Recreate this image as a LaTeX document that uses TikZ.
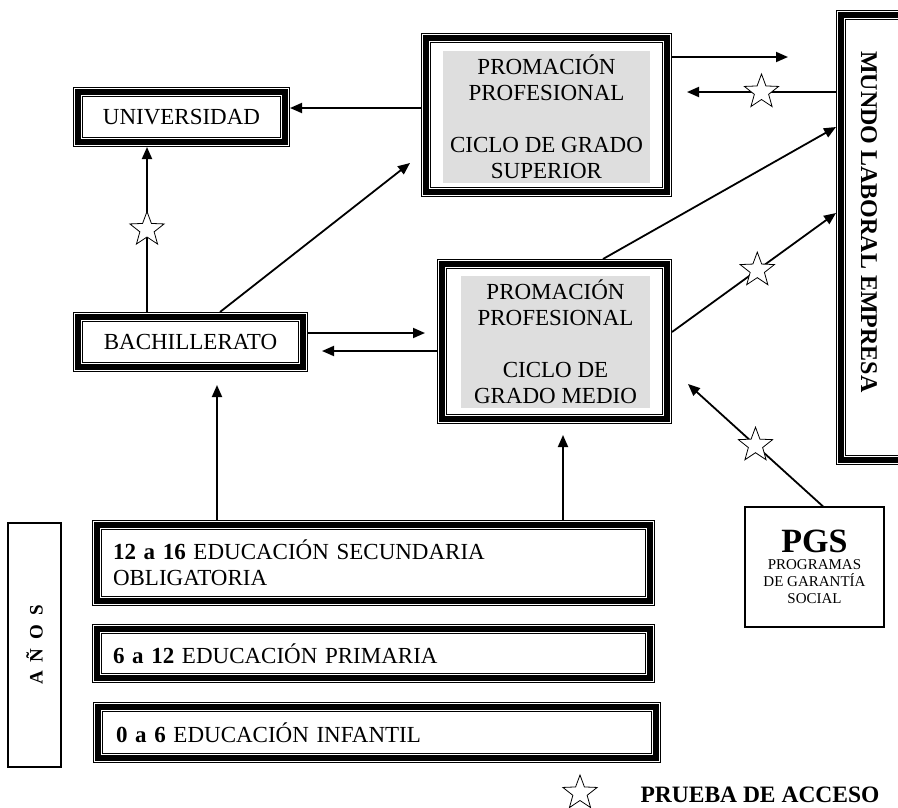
\documentclass[tikz,border=0pt]{standalone}
\usepackage{fontspec}
\setmainfont{Liberation Serif}
\usetikzlibrary{shapes.geometric, arrows.meta, positioning}

\begin{document}
\begin{tikzpicture}[
  x=1pt, y=-1pt,
  font=\fontsize{23}{26}\selectfont,
  frame/.style={draw, line width=6pt, outer sep=5pt, inner sep=0pt, align=center,
    preaction={draw, line width=10pt}, preaction={draw, white, line width=8pt}},
  shade/.style={fill=black!13, inner sep=0pt, align=center},
  thinbox/.style={draw, line width=1.2pt, inner sep=0pt, align=center},
  arrow/.style={-{Triangle[length=12pt, width=10pt]}, line width=1.8pt},
  pstar/.style={star, star points=5, star point ratio=2.4, draw, line width=0.8pt, fill=white, minimum size=36pt, inner sep=0pt}
]
  \useasboundingbox (0,0) rectangle (898,807);

  % Upper level
  \node[frame, minimum width=241pt, minimum height=154pt] (sup) at (546.5,115) {};
  \node[shade, minimum width=207pt, minimum height=132pt] (supt) at (546.5,117) {PROMACIÓN\\PROFESIONAL\\[26pt]CICLO DE GRADO\\SUPERIOR};
  \node[frame, minimum width=207pt, minimum height=50pt] (univ) at (181.5,117) {UNIVERSIDAD};
  \node[frame, minimum width=225pt, minimum height=155pt] (medio) at (554.5,341.5) {};
  \node[shade, minimum width=189pt, minimum height=132pt] (mediot) at (555.5,342) {PROMACIÓN\\PROFESIONAL\\[26pt]CICLO DE\\GRADO MEDIO};
  \node[frame, minimum width=225pt, minimum height=50pt] (bach) at (190.5,342) {BACHILLERATO};
  \node[frame, minimum width=80pt, minimum height=445pt] (mundo) at (881,237.5) {};
  \node[rotate=-90, font=\fontsize{24}{26}\selectfont\bfseries] (mundot) at (869,222) {MUNDO LABORAL EMPRESA};

  % Compulsory levels
  \node[frame, minimum width=553pt, minimum height=76pt, text width=521pt, inner xsep=16pt, align=left] (sec) at (373.5,563) {\textbf{12 a 16} EDUCACIÓN SECUNDARIA\\OBLIGATORIA};
  \node[frame, minimum width=553pt, minimum height=49pt, text width=521pt, inner xsep=16pt, align=left] (prim) at (373.5,653.5) {\textbf{6 a 12} EDUCACIÓN PRIMARIA};
  \node[frame, minimum width=558pt, minimum height=51pt, text width=522pt, inner xsep=18pt, align=left] (inf) at (377,732.5) {\textbf{0 a 6} EDUCACIÓN INFANTIL};
  \node[thinbox, rotate=90, minimum width=244pt, minimum height=53pt, font=\fontsize{19}{22}\selectfont\bfseries] (anos) at (34.5,645) {A\hspace{9pt}Ñ\hspace{9pt}O\hspace{9pt}S};
  \node[thinbox, minimum width=139pt, minimum height=120pt, font=\fontsize{15}{17}\selectfont] (pgs) at (814.5,567) {{\fontsize{34}{34}\selectfont\bfseries PGS}\\PROGRAMAS\\DE GARANTÍA\\SOCIAL};

  % Free arrow ends
  \coordinate (tipsup) at (788,57);
  \coordinate (tipmundo) at (687,92);
  \coordinate (tipbach) at (410,163);
  \coordinate (tipmed) at (425,333);
  \coordinate (tipback) at (322,351);
  \coordinate (tipsec) at (217,385);
  \coordinate (tipsec2) at (563,435);
  \coordinate (tippgs) at (688,384);

  \draw[arrow] ([yshift=7pt]sup.west) -- ([yshift=9pt]univ.east);
  \draw[arrow] ([yshift=58pt]sup.east) -- (tipsup);
  \draw[arrow] ([yshift=145.5pt]mundo.west) -- node[pstar]{} (tipmundo);
  \draw[arrow] ([xshift=48.5pt]medio.north) -- ([yshift=110.5pt]mundo.west);
  \draw[arrow] ([yshift=9.5pt]medio.east) -- node[pstar, pos=.52]{} ([yshift=24.5pt]mundo.west);
  \draw[arrow] ([xshift=-43.5pt]bach.north) -- node[pstar]{} ([xshift=-34.5pt]univ.south);
  \draw[arrow] ([xshift=29.5pt]bach.north) -- (tipbach);
  \draw[arrow] ([yshift=9pt]bach.east) -- (tipmed);
  \draw[arrow] ([yshift=-9.5pt]medio.west) -- (tipback);
  \draw[arrow] ([xshift=-156.5pt]sec.north) -- (tipsec);
  \draw[arrow] ([xshift=189.5pt]sec.north) -- (tipsec2);
  \draw[arrow] ([xshift=8.5pt]pgs.north) -- node[pstar]{} (tippgs);

  % Legend
  \node[pstar] (leg) at (580,793) {};
  \node[anchor=west, font=\fontsize{23.5}{26}\selectfont\bfseries] (legt) at (637,795) {PRUEBA DE ACCESO};
\end{tikzpicture}
\end{document}
